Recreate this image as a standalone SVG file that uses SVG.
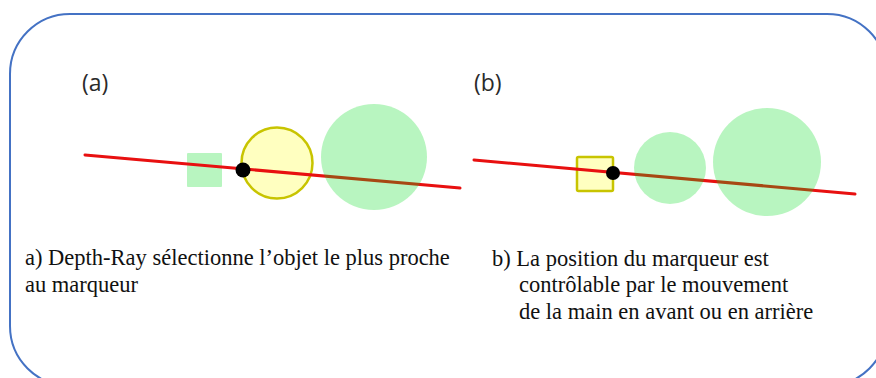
<svg xmlns="http://www.w3.org/2000/svg" width="876" height="378" viewBox="0 0 876 378">
<style>
.frame{fill:none;stroke:#4472C4;stroke-width:2}
.ray{stroke:#e81010;stroke-width:3;stroke-linecap:round}
.obj{fill:rgb(0,220,30);fill-opacity:0.28}
.sel{fill:#ffffc0;stroke:#c8c400;stroke-width:2.5}
.mark{fill:#000}
.lab{font-family:"Open Sans","Liberation Sans",sans-serif;font-size:23px;fill:#2a2a2a}
.cap{font-family:"Liberation Serif",serif;font-size:22.5px;fill:#111}
</style>
<rect class="frame" x="10" y="14" width="877" height="372" rx="60" ry="60"/>
<g id="panel-a">
  <text class="lab" x="82" y="91">(a)</text>
  <g id="square-a"><rect class="obj" x="187" y="153" width="35" height="34" rx="1"/></g>
  <g id="sel-circle-a"><circle class="sel" cx="277" cy="163" r="35.5"/></g>
  <g id="ray-a"><line class="ray" x1="85" y1="155" x2="460" y2="188"/></g>
  <g id="marker-a"><circle class="mark" cx="243" cy="170" r="7.5"/></g>
  <g id="circle-a"><circle class="obj" cx="374" cy="157" r="53"/></g>
  <text class="cap" x="25" y="265">a) Depth-Ray sélectionne l’objet le plus proche</text>
  <text class="cap" x="25" y="292">au marqueur</text>
</g>
<g id="panel-b">
  <text class="lab" x="474" y="91">(b)</text>
  <g id="sel-square-b"><rect class="sel" x="577" y="157" width="36" height="34" rx="1.5"/></g>
  <g id="ray-b"><line class="ray" x1="474" y1="160" x2="855" y2="194"/></g>
  <g id="marker-b"><circle class="mark" cx="613" cy="173" r="7"/></g>
  <g id="circle-b1"><circle class="obj" cx="670" cy="168" r="36"/></g>
  <g id="circle-b2"><circle class="obj" cx="767" cy="162" r="54"/></g>
  <text class="cap" x="492" y="266">b) La position du marqueur est</text>
  <text class="cap" x="519" y="292">contrôlable par le mouvement</text>
  <text class="cap" x="519" y="319">de la main en avant ou en arrière</text>
</g>
</svg>
